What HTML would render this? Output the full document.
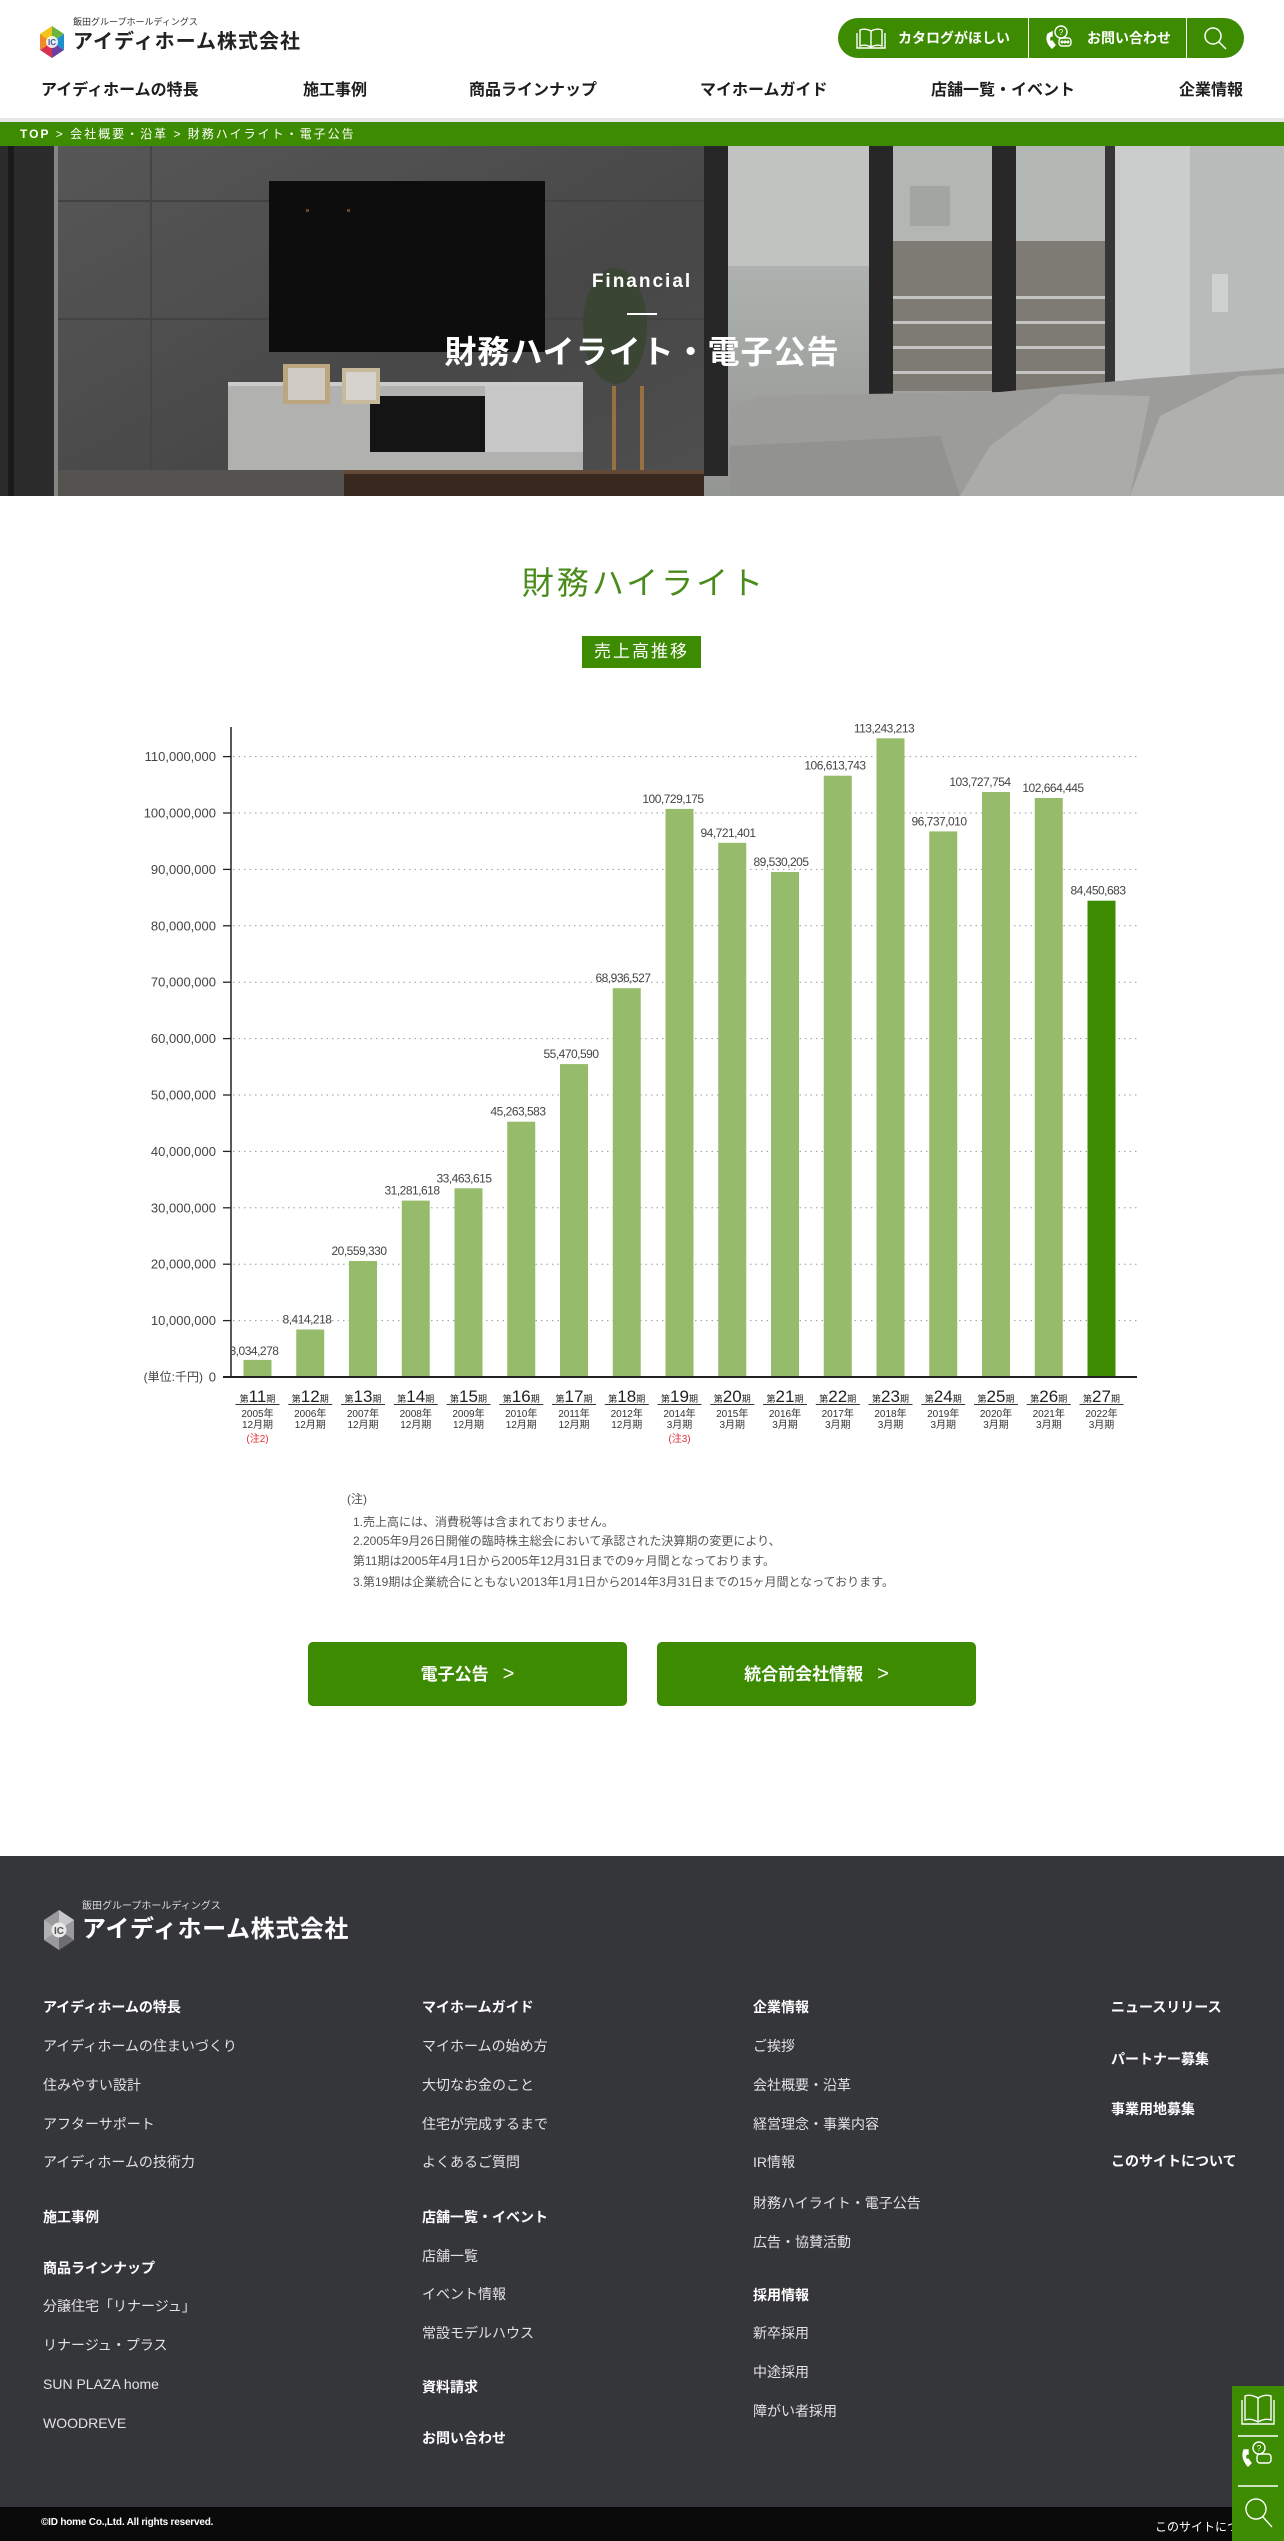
<!DOCTYPE html>
<html lang="ja"><head><meta charset="utf-8">
<style>
*{margin:0;padding:0;box-sizing:border-box}
html,body{width:1284px;height:2541px;overflow:hidden;background:#fff}
body{position:relative;font-family:"Liberation Sans","Noto Sans CJK JP",sans-serif;color:#222}
.a{position:absolute;white-space:nowrap}
.nav{top:81px;font-size:16px;line-height:20px;font-weight:bold;color:#1e1e1e}
.fl{font-size:14px;line-height:20px;color:#e2e2e2}
.fh{font-size:14px;line-height:20px;color:#fff;font-weight:bold}
.note{font-size:12px;line-height:16px;color:#555;left:353px}
.btn{top:1642px;width:319px;height:64px;background:#3c8b00;border-radius:5px;color:#fff;font-size:17px;font-weight:bold;line-height:64px;text-align:center}
.btn span{font-weight:normal;font-size:20px;margin-left:14px}
</style></head>
<body>

<!-- HEADER -->
<svg class="a" style="left:40px;top:26px" width="24" height="32" viewBox="0 0 24 32">
<polygon points="12,0 24,8 12,16" fill="#6cb33f"/>
<polygon points="12,0 0,8 12,16" fill="#f0c419"/>
<polygon points="24,8 24,24 12,16" fill="#1f8fd0"/>
<polygon points="24,24 12,32 12,16" fill="#6a3fa0"/>
<polygon points="12,32 0,24 12,16" fill="#d8304f"/>
<polygon points="0,24 0,8 12,16" fill="#f08a24"/>
<circle cx="12" cy="16" r="6" fill="#fff" opacity=".85"/>
<text x="12" y="19" font-size="8" text-anchor="middle" fill="#3a5aa0" font-weight="bold">IC</text>
</svg>
<div class="a" style="left:73px;top:16px;font-size:9px;line-height:12px;color:#333">飯田グループホールディングス</div>
<div class="a" style="left:73px;top:29px;font-size:20px;line-height:26px;font-weight:bold;color:#222;letter-spacing:1px">アイディホーム株式会社</div>

<div class="a" style="left:838px;top:18px;width:406px;height:40px;border-radius:20px;background:#3c8b00"></div>
<div class="a" style="left:1028px;top:18px;width:1px;height:40px;background:#fff"></div>
<div class="a" style="left:1186px;top:18px;width:1px;height:40px;background:#fff"></div>
<svg class="a" style="left:856px;top:27px" width="30" height="22" viewBox="0 0 30 22" fill="none" stroke="#fff" stroke-width="1.4">
<path d="M15 4 Q9 1 4 3 V19 Q9 17 15 20 Q21 17 26 19 V3 Q21 1 15 4 Z"/><path d="M15 4 V20"/><path d="M1 6 V21 H29 V6"/>
</svg>
<div class="a" style="left:898px;top:28px;font-size:14px;line-height:20px;color:#fff;font-weight:bold">カタログがほしい</div>
<svg class="a" style="left:1044px;top:25px" width="30" height="26" viewBox="0 0 30 26" fill="none" stroke="#fff" stroke-width="1.4">
<path d="M4 9 Q1 16 8 23 L11 20 L8 16 L6 17 Q5 14 6 11 L8 11 L8 7 Z" fill="#fff"/>
<circle cx="17" cy="7" r="6"/><text x="17" y="10" font-size="8" fill="#fff" stroke="none" text-anchor="middle">?</text>
<rect x="15" y="13" width="12" height="8" rx="3"/><circle cx="18" cy="17" r=".8" fill="#fff"/><circle cx="21" cy="17" r=".8" fill="#fff"/><circle cx="24" cy="17" r=".8" fill="#fff"/>
</svg>
<div class="a" style="left:1087px;top:28px;font-size:14px;line-height:20px;color:#fff;font-weight:bold">お問い合わせ</div>
<svg class="a" style="left:1203px;top:26px" width="26" height="26" viewBox="0 0 26 26" fill="none" stroke="#fff" stroke-width="1.5">
<circle cx="10" cy="10" r="8"/><path d="M16 16 L23 23"/>
</svg>

<div class="a nav" style="left:41px">アイディホームの特長</div>
<div class="a nav" style="left:303px">施工事例</div>
<div class="a nav" style="left:469px">商品ラインナップ</div>
<div class="a nav" style="left:700px">マイホームガイド</div>
<div class="a nav" style="left:931px">店舗一覧・イベント</div>
<div class="a nav" style="left:1179px">企業情報</div>

<div class="a" style="left:0;top:118px;width:1284px;height:4px;background:#e6e6e6"></div>
<div class="a" style="left:0;top:122px;width:1284px;height:24px;background:#3c8b00"></div>
<div class="a" style="left:20px;top:122px;font-size:12px;line-height:24px;color:#fff;letter-spacing:2px"><b>TOP</b> &gt; 会社概要・沿革 &gt; 財務ハイライト・電子公告</div>

<!-- HERO -->
<svg class="a" style="left:0;top:146px" width="1284" height="350" viewBox="0 0 1284 350">
<defs>
<linearGradient id="wall" x1="0" y1="0" x2="1" y2="1"><stop offset="0" stop-color="#5d5d5d"/><stop offset=".6" stop-color="#4c4c4c"/><stop offset="1" stop-color="#545454"/></linearGradient>
<linearGradient id="win" x1="0" y1="0" x2="0" y2="1"><stop offset="0" stop-color="#c4c8c5"/><stop offset=".35" stop-color="#b9bdba"/><stop offset="1" stop-color="#9c9f9b"/></linearGradient>
</defs>
<rect width="1284" height="350" fill="#525252"/>
<rect x="0" y="0" width="54" height="350" fill="#2e2e2e"/>
<rect x="8" y="0" width="6" height="350" fill="#1c1c1c"/>
<rect x="54" y="0" width="4" height="350" fill="#8e8e8e"/>
<rect x="58" y="0" width="646" height="350" fill="url(#wall)"/>
<rect x="58" y="54" width="646" height="2" fill="#474747"/>
<rect x="58" y="172" width="646" height="2" fill="#484848"/>
<rect x="150" y="0" width="2" height="330" fill="#4a4a4a"/>
<rect x="269" y="35" width="276" height="171" fill="#0e0e0e"/>
<rect x="306" y="63" width="3" height="3" fill="#6a4a30"/><rect x="347" y="63" width="3" height="3" fill="#6a4a30"/>
<ellipse cx="615" cy="180" rx="32" ry="58" fill="#3f4a38"/>
<rect x="612" y="240" width="4" height="100" fill="#a07a48"/><rect x="640" y="240" width="4" height="100" fill="#a07a48"/>
<rect x="58" y="324" width="290" height="26" fill="#5b5956"/>
<rect x="228" y="238" width="355" height="86" fill="#bdbdbc"/>
<rect x="228" y="236" width="355" height="4" fill="#d8d8d8"/>
<rect x="370" y="250" width="115" height="56" fill="#161616"/>
<rect x="485" y="240" width="98" height="66" fill="#d4d4d4"/>
<rect x="283" y="218" width="47" height="40" fill="#c8b187"/><rect x="288" y="222" width="37" height="32" fill="#dcd7cf"/>
<rect x="342" y="222" width="38" height="36" fill="#d3c5a6"/><rect x="346" y="226" width="30" height="28" fill="#e4e0da"/>
<rect x="344" y="326" width="386" height="24" fill="#3c2b1f"/>
<rect x="344" y="324" width="386" height="4" fill="#6a4f3c"/>
<rect x="704" y="0" width="411" height="350" fill="url(#win)"/>
<rect x="704" y="0" width="24" height="330" fill="#2a2a2a"/>
<rect x="728" y="0" width="141" height="120" fill="#ccd0cd"/>
<rect x="893" y="95" width="212" height="150" fill="#86827c"/>
<rect x="893" y="0" width="212" height="95" fill="#bfc3c0"/>
<rect x="910" y="40" width="40" height="40" fill="#adb1ae"/>
<rect x="893" y="150" width="212" height="3" fill="#d0d0ce"/>
<rect x="893" y="175" width="212" height="3" fill="#d0d0ce"/>
<rect x="893" y="200" width="212" height="3" fill="#d0d0ce"/>
<rect x="893" y="225" width="212" height="3" fill="#d0d0ce"/>
<rect x="869" y="0" width="24" height="330" fill="#2a2a2a"/>
<rect x="992" y="0" width="24" height="330" fill="#2b2b2b"/>
<rect x="1105" y="0" width="10" height="350" fill="#3a3a3a"/>
<rect x="1115" y="0" width="75" height="350" fill="#d8dad9"/>
<rect x="1190" y="0" width="94" height="350" fill="#c4c7c5"/>
<rect x="1212" y="128" width="16" height="38" fill="#dcdedd"/>
<polygon points="730,262 760,250 860,248 1000,246 1150,232 1284,222 1284,350 730,350" fill="#a6a6a4"/>
<polygon points="960,350 990,300 1060,248 1150,250 1130,350" fill="#b6b6b3"/>
<polygon points="1130,350 1160,270 1240,230 1284,228 1284,350" fill="#bcbcb9"/>
<polygon points="730,300 940,290 960,350 730,350" fill="#9c9c9a"/>
<rect width="1284" height="350" fill="#000" opacity="0.06"/>
</svg>
<div class="a" style="left:0;top:268px;width:1284px;text-align:center;font-size:19px;line-height:28px;color:#fff;letter-spacing:2px;font-weight:bold">Financial</div>
<div class="a" style="left:627px;top:313px;width:30px;height:2px;background:#fff"></div>
<div class="a" style="left:0;top:332px;width:1284px;text-align:center;font-size:32px;line-height:40px;color:#fff;font-weight:bold;letter-spacing:1px">財務ハイライト・電子公告</div>

<!-- MAIN TITLE -->
<div class="a" style="left:0;top:563px;width:1284px;text-align:center;font-size:32px;line-height:40px;color:#4a8c1c;letter-spacing:3px;padding-left:4px">財務ハイライト</div>
<div class="a" style="left:582px;top:636px;width:119px;height:32px;background:#3c8b00;color:#fff;font-size:17px;line-height:32px;text-align:center;letter-spacing:2px">売上高推移</div>

<!-- CHART -->
<svg class="a" style="left:0;top:0" width="1284" height="1460" viewBox="0 0 1284 1460" font-family="Liberation Sans, Noto Sans CJK JP, sans-serif">
<g stroke="#9a9a9a" stroke-width="1" stroke-dasharray="1.5 4">
<line x1="233" x2="1137" y1="1320.6" y2="1320.6"/>
<line x1="233" x2="1137" y1="1264.2" y2="1264.2"/>
<line x1="233" x2="1137" y1="1207.8" y2="1207.8"/>
<line x1="233" x2="1137" y1="1151.4" y2="1151.4"/>
<line x1="233" x2="1137" y1="1095" y2="1095"/>
<line x1="233" x2="1137" y1="1038.6" y2="1038.6"/>
<line x1="233" x2="1137" y1="982.2" y2="982.2"/>
<line x1="233" x2="1137" y1="925.8" y2="925.8"/>
<line x1="233" x2="1137" y1="869.4" y2="869.4"/>
<line x1="233" x2="1137" y1="813" y2="813"/>
<line x1="233" x2="1137" y1="756.6" y2="756.6"/>
</g>
<g stroke="#222" stroke-width="1.3">
<line x1="223" x2="231" y1="1377" y2="1377"/>
<line x1="223" x2="231" y1="1320.6" y2="1320.6"/>
<line x1="223" x2="231" y1="1264.2" y2="1264.2"/>
<line x1="223" x2="231" y1="1207.8" y2="1207.8"/>
<line x1="223" x2="231" y1="1151.4" y2="1151.4"/>
<line x1="223" x2="231" y1="1095" y2="1095"/>
<line x1="223" x2="231" y1="1038.6" y2="1038.6"/>
<line x1="223" x2="231" y1="982.2" y2="982.2"/>
<line x1="223" x2="231" y1="925.8" y2="925.8"/>
<line x1="223" x2="231" y1="869.4" y2="869.4"/>
<line x1="223" x2="231" y1="813" y2="813"/>
<line x1="223" x2="231" y1="756.6" y2="756.6"/>
</g>
<g font-size="13" fill="#444" text-anchor="end">
<text x="216" y="1381.5">0</text>
<text x="216" y="1325.1">10,000,000</text>
<text x="216" y="1268.7">20,000,000</text>
<text x="216" y="1212.3">30,000,000</text>
<text x="216" y="1155.9">40,000,000</text>
<text x="216" y="1099.5">50,000,000</text>
<text x="216" y="1043.1">60,000,000</text>
<text x="216" y="986.7">70,000,000</text>
<text x="216" y="930.3">80,000,000</text>
<text x="216" y="873.9">90,000,000</text>
<text x="216" y="817.5">100,000,000</text>
<text x="216" y="761.1">110,000,000</text>
<text x="203" y="1381" font-size="12">(単位:千円)</text>
</g>
<g fill="#95bb6b">
<rect x="243.5" y="1359.9" width="28" height="17.1"/>
<rect x="296.25" y="1329.5" width="28" height="47.5"/>
<rect x="349" y="1261" width="28" height="116"/>
<rect x="401.75" y="1200.6" width="28" height="176.4"/>
<rect x="454.5" y="1188.3" width="28" height="188.7"/>
<rect x="507.25" y="1121.7" width="28" height="255.3"/>
<rect x="560" y="1064.1" width="28" height="312.9"/>
<rect x="612.75" y="988.2" width="28" height="388.8"/>
<rect x="665.5" y="808.9" width="28" height="568.1"/>
<rect x="718.25" y="842.8" width="28" height="534.2"/>
<rect x="771" y="872" width="28" height="505"/>
<rect x="823.75" y="775.7" width="28" height="601.3"/>
<rect x="876.5" y="738.3" width="28" height="638.7"/>
<rect x="929.25" y="831.4" width="28" height="545.6"/>
<rect x="982" y="792" width="28" height="585"/>
<rect x="1034.75" y="798" width="28" height="579"/>
</g>
<rect x="1087.5" y="900.7" width="28" height="476.3" fill="#3c8b00"/>
<line x1="231" x2="231" y1="727" y2="1378" stroke="#222" stroke-width="1.5"/>
<line x1="223" x2="1137" y1="1377" y2="1377" stroke="#222" stroke-width="2"/>
<g font-size="12" fill="#444" text-anchor="middle" letter-spacing="-0.5">
<text x="254" y="1355">3,034,278</text>
<text x="307" y="1323.5">8,414,218</text>
<text x="359" y="1255">20,559,330</text>
<text x="412" y="1194.6">31,281,618</text>
<text x="464" y="1182.3">33,463,615</text>
<text x="518" y="1115.7">45,263,583</text>
<text x="571" y="1058.1">55,470,590</text>
<text x="623" y="982.2">68,936,527</text>
<text x="673" y="802.9">100,729,175</text>
<text x="728" y="836.8">94,721,401</text>
<text x="781" y="866">89,530,205</text>
<text x="835" y="769.7">106,613,743</text>
<text x="884" y="732.3">113,243,213</text>
<text x="939" y="825.4">96,737,010</text>
<text x="980" y="786">103,727,754</text>
<text x="1053" y="792">102,664,445</text>
<text x="1098" y="894.7">84,450,683</text>
</g>
<g fill="#222" text-anchor="middle">
<text x="257.5" y="1402"><tspan font-size="9">第</tspan><tspan font-size="17">11</tspan><tspan font-size="9">期</tspan></text>
<text x="310.25" y="1402"><tspan font-size="9">第</tspan><tspan font-size="17">12</tspan><tspan font-size="9">期</tspan></text>
<text x="363" y="1402"><tspan font-size="9">第</tspan><tspan font-size="17">13</tspan><tspan font-size="9">期</tspan></text>
<text x="415.75" y="1402"><tspan font-size="9">第</tspan><tspan font-size="17">14</tspan><tspan font-size="9">期</tspan></text>
<text x="468.5" y="1402"><tspan font-size="9">第</tspan><tspan font-size="17">15</tspan><tspan font-size="9">期</tspan></text>
<text x="521.25" y="1402"><tspan font-size="9">第</tspan><tspan font-size="17">16</tspan><tspan font-size="9">期</tspan></text>
<text x="574" y="1402"><tspan font-size="9">第</tspan><tspan font-size="17">17</tspan><tspan font-size="9">期</tspan></text>
<text x="626.75" y="1402"><tspan font-size="9">第</tspan><tspan font-size="17">18</tspan><tspan font-size="9">期</tspan></text>
<text x="679.5" y="1402"><tspan font-size="9">第</tspan><tspan font-size="17">19</tspan><tspan font-size="9">期</tspan></text>
<text x="732.25" y="1402"><tspan font-size="9">第</tspan><tspan font-size="17">20</tspan><tspan font-size="9">期</tspan></text>
<text x="785" y="1402"><tspan font-size="9">第</tspan><tspan font-size="17">21</tspan><tspan font-size="9">期</tspan></text>
<text x="837.75" y="1402"><tspan font-size="9">第</tspan><tspan font-size="17">22</tspan><tspan font-size="9">期</tspan></text>
<text x="890.5" y="1402"><tspan font-size="9">第</tspan><tspan font-size="17">23</tspan><tspan font-size="9">期</tspan></text>
<text x="943.25" y="1402"><tspan font-size="9">第</tspan><tspan font-size="17">24</tspan><tspan font-size="9">期</tspan></text>
<text x="996" y="1402"><tspan font-size="9">第</tspan><tspan font-size="17">25</tspan><tspan font-size="9">期</tspan></text>
<text x="1048.75" y="1402"><tspan font-size="9">第</tspan><tspan font-size="17">26</tspan><tspan font-size="9">期</tspan></text>
<text x="1101.5" y="1402"><tspan font-size="9">第</tspan><tspan font-size="17">27</tspan><tspan font-size="9">期</tspan></text>
</g>
<g stroke="#333" stroke-width="1">
<line x1="235.5" x2="279.5" y1="1404.5" y2="1404.5"/>
<line x1="288.25" x2="332.25" y1="1404.5" y2="1404.5"/>
<line x1="341" x2="385" y1="1404.5" y2="1404.5"/>
<line x1="393.75" x2="437.75" y1="1404.5" y2="1404.5"/>
<line x1="446.5" x2="490.5" y1="1404.5" y2="1404.5"/>
<line x1="499.25" x2="543.25" y1="1404.5" y2="1404.5"/>
<line x1="552" x2="596" y1="1404.5" y2="1404.5"/>
<line x1="604.75" x2="648.75" y1="1404.5" y2="1404.5"/>
<line x1="657.5" x2="701.5" y1="1404.5" y2="1404.5"/>
<line x1="710.25" x2="754.25" y1="1404.5" y2="1404.5"/>
<line x1="763" x2="807" y1="1404.5" y2="1404.5"/>
<line x1="815.75" x2="859.75" y1="1404.5" y2="1404.5"/>
<line x1="868.5" x2="912.5" y1="1404.5" y2="1404.5"/>
<line x1="921.25" x2="965.25" y1="1404.5" y2="1404.5"/>
<line x1="974" x2="1018" y1="1404.5" y2="1404.5"/>
<line x1="1026.75" x2="1070.75" y1="1404.5" y2="1404.5"/>
<line x1="1079.5" x2="1123.5" y1="1404.5" y2="1404.5"/>
</g>
<g font-size="10" fill="#333" text-anchor="middle">
<text x="257.5" y="1417">2005年</text><text x="257.5" y="1428">12月期</text>
<text x="310.25" y="1417">2006年</text><text x="310.25" y="1428">12月期</text>
<text x="363" y="1417">2007年</text><text x="363" y="1428">12月期</text>
<text x="415.75" y="1417">2008年</text><text x="415.75" y="1428">12月期</text>
<text x="468.5" y="1417">2009年</text><text x="468.5" y="1428">12月期</text>
<text x="521.25" y="1417">2010年</text><text x="521.25" y="1428">12月期</text>
<text x="574" y="1417">2011年</text><text x="574" y="1428">12月期</text>
<text x="626.75" y="1417">2012年</text><text x="626.75" y="1428">12月期</text>
<text x="679.5" y="1417">2014年</text><text x="679.5" y="1428">3月期</text>
<text x="732.25" y="1417">2015年</text><text x="732.25" y="1428">3月期</text>
<text x="785" y="1417">2016年</text><text x="785" y="1428">3月期</text>
<text x="837.75" y="1417">2017年</text><text x="837.75" y="1428">3月期</text>
<text x="890.5" y="1417">2018年</text><text x="890.5" y="1428">3月期</text>
<text x="943.25" y="1417">2019年</text><text x="943.25" y="1428">3月期</text>
<text x="996" y="1417">2020年</text><text x="996" y="1428">3月期</text>
<text x="1048.75" y="1417">2021年</text><text x="1048.75" y="1428">3月期</text>
<text x="1101.5" y="1417">2022年</text><text x="1101.5" y="1428">3月期</text>
<text x="257.5" y="1442" fill="#e0303a">(注2)</text>
<text x="679.5" y="1442" fill="#e0303a">(注3)</text>
</g>
</svg>

<!-- NOTES -->
<div class="a note" style="left:347px;top:1491px">(注)</div>
<div class="a note" style="top:1514px">1.売上高には、消費税等は含まれておりません。</div>
<div class="a note" style="top:1533px">2.2005年9月26日開催の臨時株主総会において承認された決算期の変更により、</div>
<div class="a note" style="top:1553px">第11期は2005年4月1日から2005年12月31日までの9ヶ月間となっております。</div>
<div class="a note" style="top:1574px">3.第19期は企業統合にともない2013年1月1日から2014年3月31日までの15ヶ月間となっております。</div>

<div class="a btn" style="left:308px">電子公告<span>&gt;</span></div>
<div class="a btn" style="left:657px">統合前会社情報<span>&gt;</span></div>

<!-- FOOTER -->
<div class="a" style="left:0;top:1856px;width:1284px;height:651px;background:#35363a"></div>
<svg class="a" style="left:41px;top:1910px" width="36" height="40" viewBox="0 0 24 32">
<polygon points="12,0 24,8 24,24 12,32 0,24 0,8" fill="#9a9a9c"/>
<polygon points="12,0 24,8 12,16" fill="#c8c8ca"/>
<polygon points="24,24 12,32 12,16" fill="#6e6e70"/>
<polygon points="0,24 0,8 12,16" fill="#b0b0b2"/>
<circle cx="12" cy="16" r="6" fill="#e8e8e8"/>
<text x="12" y="19" font-size="8" text-anchor="middle" fill="#555" font-weight="bold">IC</text>
</svg>
<div class="a" style="left:82px;top:1901px;font-size:10px;line-height:12px;color:#ddd">飯田グループホールディングス</div>
<div class="a" style="left:82px;top:1915px;font-size:24px;line-height:30px;color:#fff;font-weight:bold;letter-spacing:0.6px">アイディホーム株式会社</div>

<div class="a fh" style="left:43px;top:1997px">アイディホームの特長</div>
<div class="a fl" style="left:43px;top:2036px">アイディホームの住まいづくり</div>
<div class="a fl" style="left:43px;top:2075px">住みやすい設計</div>
<div class="a fl" style="left:43px;top:2114px">アフターサポート</div>
<div class="a fl" style="left:43px;top:2152px">アイディホームの技術力</div>
<div class="a fh" style="left:43px;top:2207px">施工事例</div>
<div class="a fh" style="left:43px;top:2258px">商品ラインナップ</div>
<div class="a fl" style="left:43px;top:2296px">分譲住宅「リナージュ」</div>
<div class="a fl" style="left:43px;top:2335px">リナージュ・プラス</div>
<div class="a fl" style="left:43px;top:2374px">SUN PLAZA home</div>
<div class="a fl" style="left:43px;top:2413px">WOODREVE</div>

<div class="a fh" style="left:422px;top:1997px">マイホームガイド</div>
<div class="a fl" style="left:422px;top:2036px">マイホームの始め方</div>
<div class="a fl" style="left:422px;top:2075px">大切なお金のこと</div>
<div class="a fl" style="left:422px;top:2114px">住宅が完成するまで</div>
<div class="a fl" style="left:422px;top:2152px">よくあるご質問</div>
<div class="a fh" style="left:422px;top:2207px">店舗一覧・イベント</div>
<div class="a fl" style="left:422px;top:2246px">店舗一覧</div>
<div class="a fl" style="left:422px;top:2284px">イベント情報</div>
<div class="a fl" style="left:422px;top:2323px">常設モデルハウス</div>
<div class="a fh" style="left:422px;top:2377px">資料請求</div>
<div class="a fh" style="left:422px;top:2428px">お問い合わせ</div>

<div class="a fh" style="left:753px;top:1997px">企業情報</div>
<div class="a fl" style="left:753px;top:2036px">ご挨拶</div>
<div class="a fl" style="left:753px;top:2075px">会社概要・沿革</div>
<div class="a fl" style="left:753px;top:2114px">経営理念・事業内容</div>
<div class="a fl" style="left:753px;top:2152px">IR情報</div>
<div class="a fl" style="left:753px;top:2193px">財務ハイライト・電子公告</div>
<div class="a fl" style="left:753px;top:2232px">広告・協賛活動</div>
<div class="a fh" style="left:753px;top:2285px">採用情報</div>
<div class="a fl" style="left:753px;top:2323px">新卒採用</div>
<div class="a fl" style="left:753px;top:2362px">中途採用</div>
<div class="a fl" style="left:753px;top:2401px">障がい者採用</div>

<div class="a fh" style="left:1111px;top:1997px">ニュースリリース</div>
<div class="a fh" style="left:1111px;top:2049px">パートナー募集</div>
<div class="a fh" style="left:1111px;top:2099px">事業用地募集</div>
<div class="a fh" style="left:1111px;top:2151px">このサイトについて</div>

<div class="a" style="left:0;top:2507px;width:1284px;height:34px;background:#0a0a0a"></div>
<div class="a" style="left:41px;top:2516px;font-size:10px;line-height:14px;color:#fff;font-weight:bold;letter-spacing:-0.2px">©ID home Co.,Ltd. All rights reserved.</div>
<div class="a" style="left:1155px;top:2519px;font-size:12px;line-height:16px;color:#fff">このサイトについて</div>

<div class="a" style="left:1232px;top:2386px;width:52px;height:155px;background:#3c8b00"></div>
<svg class="a" style="left:1232px;top:2386px" width="52" height="155" viewBox="0 0 52 155" fill="none" stroke="#fff" stroke-width="1.4">
<path d="M26 12 Q19 8 13 10 V34 Q19 32 26 36 Q33 32 39 34 V10 Q33 8 26 12 Z"/><path d="M26 12 V36"/><path d="M10 14 V38 H42 V14"/>
<line x1="6" x2="46" y1="50" y2="50"/>
<path d="M12 64 Q9 72 16 80 L19 77 L16 73 L14 74 Q13 71 14 68 L16 68 L16 64 Z" fill="#fff"/>
<circle cx="27" cy="62" r="6"/><text x="27" y="65" font-size="8" fill="#fff" stroke="none" text-anchor="middle">?</text>
<rect x="25" y="68" width="14" height="9" rx="3"/>
<line x1="6" x2="46" y1="100" y2="100"/>
<circle cx="24" cy="123" r="10"/><path d="M31 131 L40 141"/>
</svg>

</body></html>
